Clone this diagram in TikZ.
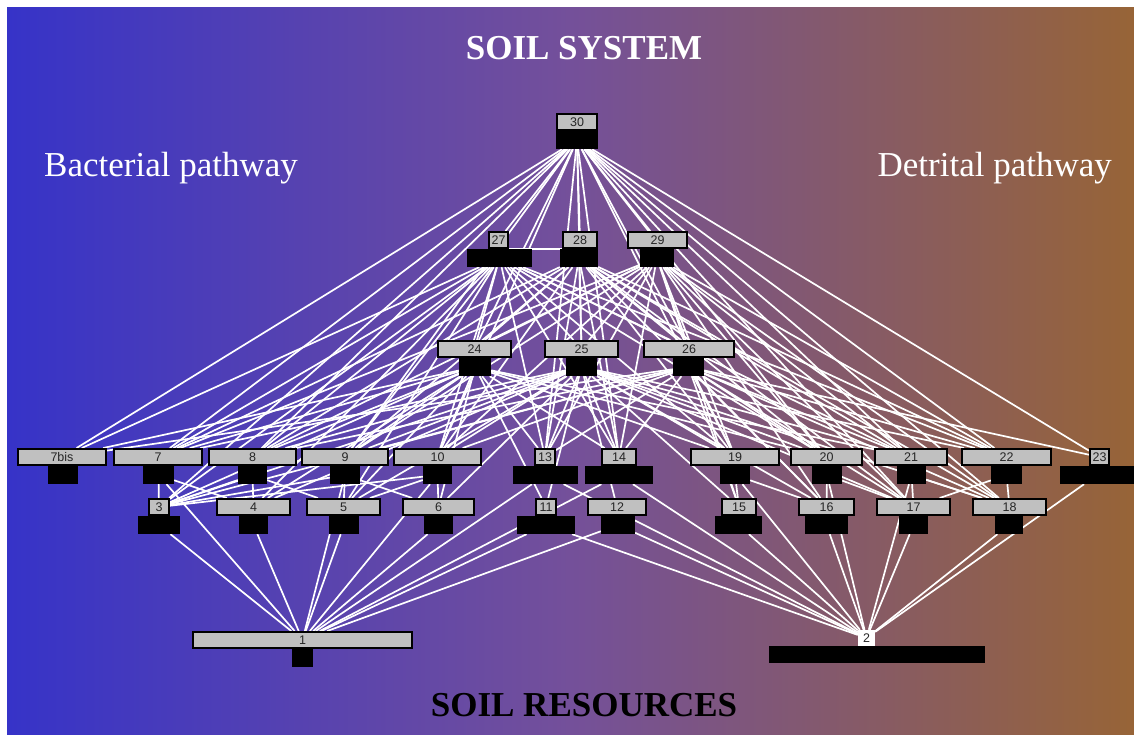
\documentclass[tikz,border=0pt]{standalone}
\usepackage{fontspec}
\setmainfont{Liberation Serif}
\newfontfamily\labfont{Liberation Sans}
\definecolor{cL}{HTML}{3633C8}
\definecolor{cM}{HTML}{74509A}
\definecolor{cR}{HTML}{976437}
\definecolor{boxgray}{HTML}{C0C0C0}
\pgfdeclarehorizontalshading{soilbg}{100bp}{color(0bp)=(cL); color(25bp)=(cL); color(50bp)=(cM); color(75bp)=(cR); color(100bp)=(cR)}
\pgfdeclarelayer{bglayer}
\pgfdeclarelayer{edgelayer}
\pgfsetlayers{bglayer,edgelayer,main}
\tikzset{
  gbox/.style={draw=black, line width=2pt, fill=boxgray, inner sep=0pt, font=\labfont\fontsize{12.5}{13}\selectfont, text=black!85},
  bbox/.style={fill=black, inner sep=0pt, draw=none},
  wire/.style={draw=white, line width=1.7pt},
  bigtitle/.style={font=\bfseries\fontsize{35}{35}\selectfont, inner sep=0pt, anchor=base},
  sidetitle/.style={font=\fontsize{35}{35}\selectfont, text=white, inner sep=0pt},
}
% #1 name, #2 label, #3 gray x1, #4 gray x2, #5 black x1, #6 black x2, #7 top y
\newcommand\fwnode[7]{%
  \node[bbox, minimum width={(#6)-(#5)}, minimum height=18pt] (b#1) at ({((#5)+(#6))/2},{-(#7)-27}) {};
  \node[gbox, minimum width={(#4)-(#3)-2}, minimum height=16pt] (n#1) at ({((#3)+(#4))/2},{-(#7)-9}) {#2};
}
\begin{document}
\begin{tikzpicture}[x=1pt,y=1pt]
\useasboundingbox (0,0) rectangle (1134,-734);
\begin{pgfonlayer}{bglayer}
  \fill[white] (0,0) rectangle (1134,-734);
  \shade[shading=soilbg] (7,-7) rectangle (1134,-734);
\end{pgfonlayer}

% titles
\node[bigtitle, text=white] (systitle) at (584,-59) {SOIL SYSTEM};
\node[bigtitle, text=black] (restitle) at (584,-716) {SOIL RESOURCES};
\node[sidetitle, anchor=base west] (bacterial) at (44,-176) {Bacterial pathway};
\node[sidetitle, anchor=base east] (detrital) at (1112,-176) {Detrital pathway};

% top levels
\fwnode{30}{30}{556}{598}{556}{598}{113}
\fwnode{27}{27}{488}{509}{467}{532}{231}
\fwnode{28}{28}{562}{598}{560}{598}{231}
\fwnode{29}{29}{627}{688}{640}{674}{231}
\fwnode{24}{24}{437}{512}{459}{491}{340}
\fwnode{25}{25}{544}{619}{566}{597}{340}
\fwnode{26}{26}{643}{735}{673}{704}{340}
% row A
\fwnode{7bis}{7bis}{17}{107}{48}{78}{448}
\fwnode{7}{7}{113}{203}{143}{174}{448}
\fwnode{8}{8}{208}{297}{238}{267}{448}
\fwnode{9}{9}{301}{389}{330}{360}{448}
\fwnode{10}{10}{393}{482}{423}{452}{448}
\fwnode{13}{13}{534}{556}{513}{578}{448}
\fwnode{14}{14}{601}{637}{585}{653}{448}
\fwnode{19}{19}{690}{780}{720}{750}{448}
\fwnode{20}{20}{790}{863}{812}{842}{448}
\fwnode{21}{21}{874}{948}{897}{926}{448}
\fwnode{22}{22}{961}{1052}{991}{1022}{448}
\fwnode{23}{23}{1089}{1110}{1060}{1134}{448}
% row B
\fwnode{3}{3}{148}{170}{138}{180}{498}
\fwnode{4}{4}{216}{291}{239}{268}{498}
\fwnode{5}{5}{306}{381}{329}{359}{498}
\fwnode{6}{6}{402}{475}{424}{453}{498}
\fwnode{11}{11}{535}{557}{517}{575}{498}
\fwnode{12}{12}{587}{647}{601}{635}{498}
\fwnode{15}{15}{721}{757}{715}{762}{498}
\fwnode{16}{16}{798}{855}{805}{848}{498}
\fwnode{17}{17}{876}{951}{899}{928}{498}
\fwnode{18}{18}{972}{1047}{995}{1023}{498}
% resources
\fwnode{1}{1}{192}{413}{292}{313}{631}
\node[bbox, minimum width=216pt, minimum height=17pt] (b2) at (877,-654.5) {};
\node[fill=white, inner sep=0pt, minimum width=17pt, minimum height=16pt, font=\labfont\fontsize{12.5}{13}\selectfont, text=black!85] (n2) at (866.5,-638) {2};

% connectors
\begin{pgfonlayer}{edgelayer}
  \foreach \l in {27,28,29,24,25,26,7bis,7,8,9,10,13,14,19,20,21,22,23,3,17,18}
    \draw[wire] (b30) -- (n\l);
  \foreach \l in {24,25,26,7bis,7,8,9,10,13,14,19,20,21,22,3,4,5}
    \draw[wire] (b27) -- (n\l);
  \foreach \l in {24,25,26,7,8,9,10,13,14,19,20,21,22,16,17,18}
    \draw[wire] (b28) -- (n\l);
  \foreach \l in {24,25,26,7,8,9,10,13,14,19,20,21,22,15,16,17,18}
    \draw[wire] (b29) -- (n\l);
  \foreach \l in {7bis,7,8,9,10,3,4,5,6,13,14,19,20,21,11}
    \draw[wire] (b24) -- (n\l);
  \foreach \l in {7,8,9,10,3,4,5,6,13,14,19,20,21,22,15,16,17,18,11,12}
    \draw[wire] (b25) -- (n\l);
  \foreach \l in {7bis,8,9,10,3,13,14,19,20,21,22,15,16,17,18,23}
    \draw[wire] (b26) -- (n\l);
  \foreach \l in {3,4} \draw[wire] (b7) -- (n\l);
  \foreach \l in {3,4,5} \draw[wire] (b8) -- (n\l);
  \foreach \l in {3,5,6} \draw[wire] (b9) -- (n\l);
  \foreach \l in {3,5,6} \draw[wire] (b10) -- (n\l);
  \foreach \l in {15,16} \draw[wire] (b19) -- (n\l);
  \foreach \l in {16,17} \draw[wire] (b20) -- (n\l);
  \foreach \l in {17,18} \draw[wire] (b21) -- (n\l);
  \foreach \l in {17,18} \draw[wire] (b22) -- (n\l);
  \foreach \u in {3,4,5,6,7,9,10,11,12,13,14}
    \draw[wire] (b\u) -- (n1);
  \foreach \u in {11,12,13,14,15,16,17,18,19,20,21,23}
    \draw[wire] (b\u) -- (n2);
  \draw[wire] (n27.south east) -- (n28.south west);
\end{pgfonlayer}
\end{tikzpicture}
\end{document}
